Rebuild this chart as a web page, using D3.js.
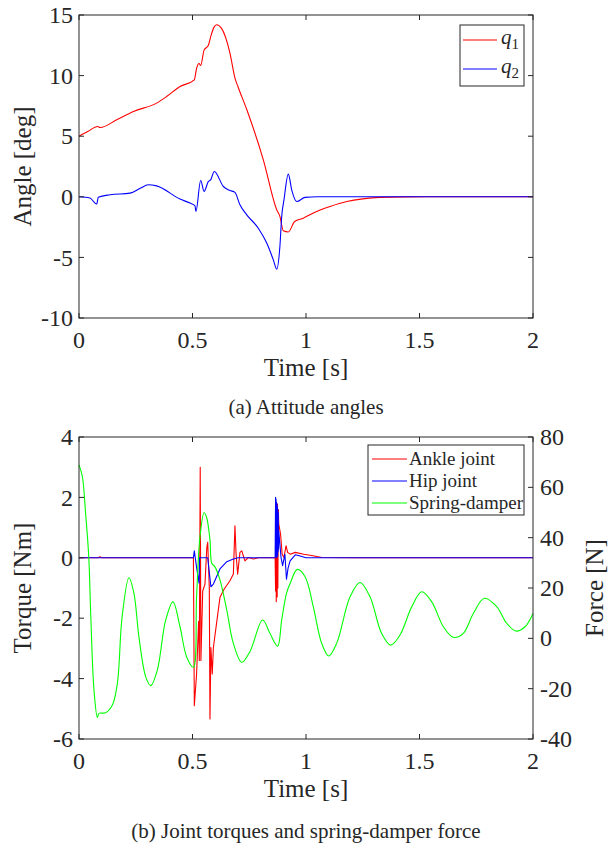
<!DOCTYPE html>
<html>
<head>
<meta charset="utf-8">
<script src="https://cdn.jsdelivr.net/npm/d3@7"></script>
<style>
  body { margin: 0; background: #fff; }
  text { font-family: "Liberation Serif", "Times New Roman", serif; fill: #262626; }
</style>
</head>
<body>
<svg id="fig" width="612" height="846"></svg>
<script>
// ---- data: [time s, value] ----
var q1 = [[0,5.0],[0.04,5.4],[0.082,5.8],[0.093,5.72],[0.166,6.35],[0.24,7.04],[0.342,7.73],[0.386,8.27],
  [0.445,9.1],[0.508,9.65],[0.518,10.6],[0.529,11.0],[0.536,10.83],[0.551,12.1],[0.57,12.5],[0.58,13.2],
  [0.595,14.0],[0.606,14.2],[0.628,13.9],[0.665,11.86],[0.687,9.8],[0.70,9.1],[0.739,7.2],[0.812,3.05],
  [0.871,-1.07],[0.885,-1.62],[0.90,-2.8],[0.922,-2.9],[0.95,-2.04],[0.988,-1.76],[1.03,-1.35],[1.106,-0.8],
  [1.18,-0.39],[1.25,-0.17],[1.326,-0.05],[1.44,-0.01],[1.6,0],[2,0]];

var q2 = [[0,0],[0.048,-0.1],[0.078,-0.6],[0.085,-0.03],[0.137,0.17],[0.225,0.3],[0.27,0.7],[0.305,0.99],
  [0.342,0.9],[0.445,-0.19],[0.489,-0.52],[0.511,-0.74],[0.515,-1.21],[0.536,1.35],[0.551,0.44],[0.57,1.27],
  [0.58,1.40],[0.596,2.09],[0.636,0.85],[0.665,0.52],[0.687,0.36],[0.709,-0.66],[0.739,-1.49],[0.79,-2.59],
  [0.827,-3.82],[0.856,-5.2],[0.871,-5.97],[0.885,-4.1],[0.893,-1.62],[0.903,-0.25],[0.922,1.87],[0.937,0.58],
  [0.959,-0.39],[0.996,-0.05],[1.05,0],[2,0]];

var ankle = [[0,0],[0.085,0],[0.092,0.04],[0.1,0],[0.504,0],[0.508,-4.9],[0.518,-3.85],[0.527,-2.1],[0.53,-3.4],
  [0.534,3.0],[0.537,-3.4],[0.545,-1.1],[0.555,-0.87],[0.563,0.34],[0.567,0.51],[0.574,-0.98],[0.577,-5.34],
  [0.581,-2.97],[0.587,-3.85],[0.592,-2.97],[0.621,-1.31],[0.639,-1.04],[0.665,-0.76],[0.68,-0.54],[0.687,1.06],
  [0.692,0.12],[0.699,-0.54],[0.709,0.18],[0.717,0.23],[0.731,-0.1],[0.746,0.01],[0.768,-0.04],[0.79,0],
  [0.864,0],[0.866,-1.1],[0.868,1.2],[0.869,-1.45],[0.871,1.5],[0.873,-1.3],[0.874,1.78],[0.876,-1.0],
  [0.878,1.6],[0.880,1.12],[0.888,0.78],[0.895,0.12],[0.903,0.01],[0.912,0.4],[0.919,0.18],[0.93,0.12],
  [0.953,0.18],[0.99,0.12],[1.03,0.07],[1.07,0.01],[1.2,0],[2,0]];

var hip = [[0,0],[0.504,0],[0.508,0.23],[0.518,-0.32],[0.529,-0.84],[0.531,0],[0.567,0],[0.581,-0.96],
  [0.592,-0.87],[0.621,-0.37],[0.651,-0.13],[0.68,-0.04],[0.70,0],[0.864,0],[0.866,2.0],[0.867,0.05],
  [0.868,1.95],[0.869,0.1],[0.870,1.85],[0.871,0.0],[0.872,1.8],[0.873,0.1],[0.874,1.7],[0.875,0.05],
  [0.876,1.6],[0.877,0.2],[0.878,1.5],[0.879,0.3],[0.880,0.89],[0.89,0.01],[0.897,-0.26],[0.907,0.12],
  [0.914,-0.71],[0.921,-0.34],[0.93,-0.1],[0.953,0.1],[0.97,0.07],[1.0,0],[2,0]];

var spring = [[0,68.9],[0.015,64.2],[0.029,49.7],[0.043,32.4],[0.052,8.6],[0.066,-20.5],[0.081,-31.4],
  [0.088,-29.8],[0.117,-29.6],[0.147,-26.5],[0.169,-17.9],[0.19,8.6],[0.22,24.1],[0.242,17.9],[0.264,0.6],
  [0.294,-15.3],[0.316,-18.8],[0.345,-12.6],[0.382,7.3],[0.414,14.5],[0.445,4.6],[0.474,-7.3],[0.504,-11.5],
  [0.518,16.5],[0.533,40.4],[0.551,49.9],[0.562,48.1],[0.577,39.1],[0.585,29.8],[0.599,28.4],[0.621,23.2],
  [0.651,11.2],[0.68,-2.0],[0.717,-9.5],[0.753,-5.3],[0.809,7.3],[0.841,2.0],[0.875,-3.1],[0.893,7.3],
  [0.914,17.9],[0.93,21.8],[0.962,27.4],[0.996,24.5],[1.032,12.6],[1.069,-2.0],[1.10,-7.0],[1.135,-2.0],
  [1.194,16.5],[1.238,22.2],[1.282,16.5],[1.333,2.0],[1.373,-2.7],[1.414,1.3],[1.466,12.6],[1.51,18.5],
  [1.554,14.5],[1.605,4.6],[1.649,0.4],[1.693,2.0],[1.737,9.9],[1.786,15.9],[1.84,12.6],[1.884,6.0],
  [1.925,2.9],[1.965,4.6],[2.0,9.9]];

var timeTicks = [0, 0.5, 1, 1.5, 2];
var angleTicks = [-10, -5, 0, 5, 10, 15];
var torqueTicks = [-6, -4, -2, 0, 2, 4];
var forceTicks = [-40, -20, 0, 20, 40, 60, 80];

var svg = d3.select("#fig"),
    axisColor = "#262626",
    tickLen = 5,
    tickFont = 24,
    labelFont = 25;

function tickFmt(d) { return String(d); }

function drawFrame(g, x, y, yTicks, opts) {
  var x0 = x.range()[0], x1 = x.range()[1],
      y0 = y.range()[0], y1 = y.range()[1];

  // x ticks, bottom and top, pointing inward
  timeTicks.forEach(function(t) {
    g.append("line").attr("x1", x(t)).attr("x2", x(t)).attr("y1", y0).attr("y2", y0 - tickLen)
      .attr("stroke", axisColor);
    g.append("line").attr("x1", x(t)).attr("x2", x(t)).attr("y1", y1).attr("y2", y1 + tickLen)
      .attr("stroke", axisColor);
    g.append("text").attr("x", x(t)).attr("y", y0 + 30).attr("text-anchor", "middle")
      .attr("font-size", tickFont).text(tickFmt(t));
  });

  yTicks.forEach(function(v) {
    g.append("line").attr("x1", x0).attr("x2", x0 + tickLen).attr("y1", y(v)).attr("y2", y(v))
      .attr("stroke", axisColor);
    if (opts.rightTicks) {
      g.append("line").attr("x1", x1).attr("x2", x1 - tickLen).attr("y1", y(v)).attr("y2", y(v))
        .attr("stroke", axisColor);
    }
    g.append("text").attr("x", x0 - 6).attr("y", y(v)).attr("dy", "0.34em")
      .attr("text-anchor", "end").attr("font-size", tickFont).text(tickFmt(v));
  });

  g.append("rect").attr("x", x0).attr("y", y1).attr("width", x1 - x0).attr("height", y0 - y1)
    .attr("fill", "none").attr("stroke", axisColor).attr("stroke-width", 1);

  g.append("text").attr("x", (x0 + x1) / 2).attr("y", y0 + 58).attr("text-anchor", "middle")
    .attr("font-size", labelFont).text("Time [s]");

  g.append("text")
    .attr("transform", "translate(" + 31 + "," + ((y0 + y1) / 2) + ") rotate(-90)")
    .attr("text-anchor", "middle").attr("font-size", labelFont).text(opts.ylabel);

  g.append("text").attr("x", 306).attr("y", y0 + opts.captionGap).attr("text-anchor", "middle")
    .attr("font-size", 21).text(opts.caption);
}

function series(g, data, x, y, color, curve) {
  g.append("path")
    .datum(data)
    .attr("fill", "none")
    .attr("stroke", color)
    .attr("stroke-width", 1.1)
    .attr("stroke-linejoin", "round")
    .attr("d", d3.line()
      .x(function(d) { return x(d[0]); })
      .y(function(d) { return y(d[1]); })
      .curve(curve));
}

// ---- (a) attitude angles ----
var xa = d3.scaleLinear().domain([0, 2]).range([79, 533]),
    ya = d3.scaleLinear().domain([-10, 15]).range([318, 15]);
var ga = svg.append("g");
series(ga, q1, xa, ya, "#ff0000", d3.curveMonotoneX);
series(ga, q2, xa, ya, "#0000ff", d3.curveMonotoneX);
drawFrame(ga, xa, ya, angleTicks, { rightTicks: true, ylabel: "Angle [deg]",
  caption: "(a) Attitude angles", captionGap: 96 });

var lega = ga.append("g");
lega.append("rect").attr("x", 460).attr("y", 25).attr("width", 64).attr("height", 61)
  .attr("fill", "#fff").attr("stroke", axisColor);
[["1", "#ff0000", 40], ["2", "#0000ff", 69]].forEach(function(d) {
  lega.append("line").attr("x1", 463).attr("x2", 497).attr("y1", d[2]).attr("y2", d[2])
    .attr("stroke", d[1]).attr("stroke-width", 1.1);
  var t = lega.append("text").attr("x", 501).attr("y", d[2] + 4).attr("font-size", 21);
  t.append("tspan").attr("font-style", "italic").text("q");
  t.append("tspan").attr("font-size", 15).attr("dy", 5).text(d[0]);
});

// ---- (b) joint torques and spring-damper force ----
var xb = d3.scaleLinear().domain([0, 2]).range([79, 533]),
    yb = d3.scaleLinear().domain([-6, 4]).range([739, 437]),
    yf = d3.scaleLinear().domain([-40, 80]).range([739, 437]);
var gb = svg.append("g");
series(gb, ankle, xb, yb, "#ff0000", d3.curveLinear);
series(gb, hip, xb, yb, "#0000ff", d3.curveLinear);
series(gb, spring, xb, yf, "#00ff00", d3.curveCatmullRom.alpha(0.5));
drawFrame(gb, xb, yb, torqueTicks, { rightTicks: false, ylabel: "Torque [Nm]",
  caption: "(b) Joint torques and spring-damper force", captionGap: 99 });

// right force axis
forceTicks.forEach(function(v) {
  gb.append("line").attr("x1", 533).attr("x2", 533 - tickLen).attr("y1", yf(v)).attr("y2", yf(v))
    .attr("stroke", axisColor);
  gb.append("text").attr("x", 540).attr("y", yf(v)).attr("dy", "0.34em")
    .attr("font-size", tickFont).text(tickFmt(v));
});
gb.append("text")
  .attr("transform", "translate(" + 603 + "," + 588 + ") rotate(-90)")
  .attr("text-anchor", "middle").attr("font-size", labelFont).text("Force [N]");

var legb = gb.append("g");
legb.append("rect").attr("x", 368).attr("y", 445).attr("width", 156).attr("height", 70)
  .attr("fill", "#fff").attr("stroke", axisColor);
[["Ankle joint", "#ff0000", 459], ["Hip joint", "#0000ff", 481], ["Spring-damper", "#00ff00", 503]]
  .forEach(function(d) {
    legb.append("line").attr("x1", 372).attr("x2", 407).attr("y1", d[2]).attr("y2", d[2])
      .attr("stroke", d[1]).attr("stroke-width", 1.1);
    legb.append("text").attr("x", 409).attr("y", d[2]).attr("dy", "0.33em")
      .attr("font-size", 19).text(d[0]);
  });
</script>
</body>
</html>
